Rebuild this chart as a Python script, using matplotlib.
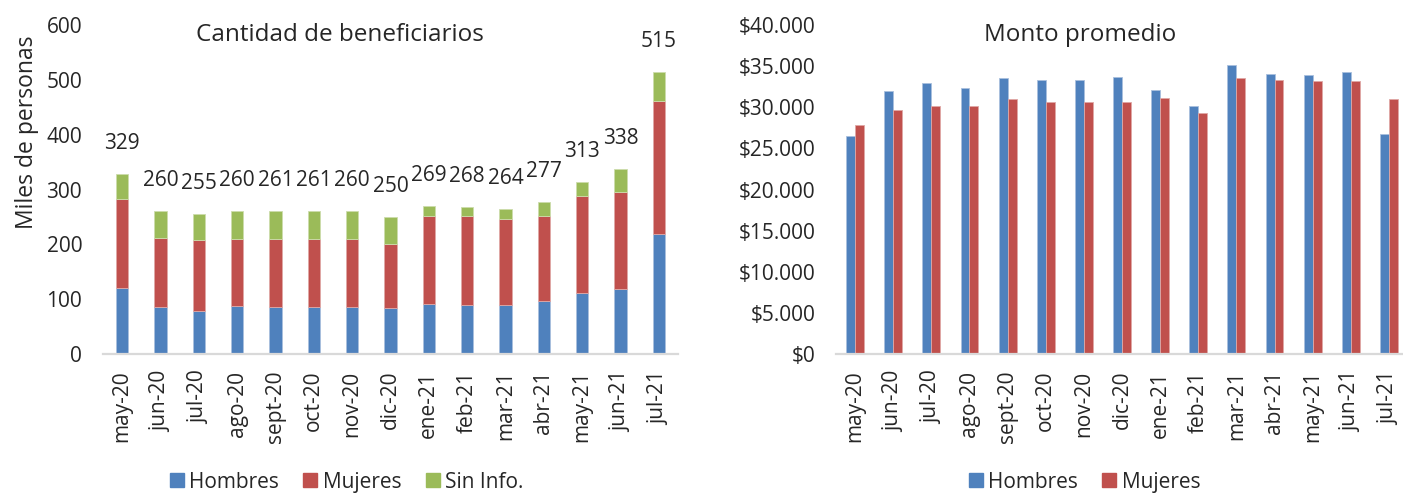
import matplotlib.pyplot as plt
from matplotlib.lines import Line2D
from matplotlib.ticker import FuncFormatter
import numpy as np

plt.rcParams["font.family"] = ["Open Sans", "DejaVu Sans"]

meses = ["may-20", "jun-20", "jul-20", "ago-20", "sept-20", "oct-20", "nov-20",
         "dic-20", "ene-21", "feb-21", "mar-21", "abr-21", "may-21", "jun-21", "jul-21"]

# Cantidad de beneficiarios (miles de personas)
ben_hombres = [121, 85, 79, 87, 86, 86, 86, 83, 91, 90, 90, 96, 112, 119, 218]
ben_mujeres = [161, 127, 128, 123, 124, 124, 124, 118, 160, 161, 156, 156, 177, 177, 244]
ben_sin_info = [47, 48, 48, 50, 51, 51, 50, 49, 18, 17, 18, 25, 24, 42, 53]
ben_total = [329, 260, 255, 260, 261, 261, 260, 250, 269, 268, 264, 277, 313, 338, 515]

# Monto promedio ($)
monto_hombres = [26500, 32000, 32900, 32300, 33500, 33300, 33300, 33650, 32100, 30100,
                 35100, 34100, 33900, 34300, 26750]
monto_mujeres = [27800, 29650, 30100, 30100, 30950, 30650, 30650, 30600, 31100, 29300,
                 33600, 33300, 33150, 33200, 31050]

AZUL = "#4F81BD"
ROJO = "#C0504D"
VERDE = "#9BBB59"
GRIS = "#D9D9D9"
TXT = "#262626"
FS = 15

W, H = 1403, 494
fig = plt.figure(figsize=(W / 100, H / 100), dpi=100)

ax1 = fig.add_axes([103 / W, (H - 354) / H, 575 / W, 329 / H])
ax2 = fig.add_axes([836 / W, (H - 354) / H, 572 / W, 329 / H])

x = np.arange(len(meses))
bw = 0.33
h = np.array(ben_hombres)
m = np.array(ben_mujeres)
s = np.array(ben_sin_info)
ax1.bar(x, h, bw, color=AZUL, edgecolor="#A9C0DE", linewidth=0.6)
ax1.bar(x, m, bw, bottom=h, color=ROJO, edgecolor="#DFA8A6", linewidth=0.6)
ax1.bar(x, s, bw, bottom=h + m, color=VERDE, edgecolor="#CDDDAC", linewidth=0.6)
for xi, tot, top in zip(x, ben_total, h + m + s):
    ax1.annotate(str(tot), (xi, top), xytext=(0, 22), textcoords="offset points",
                 ha="center", va="center", fontsize=15, color=TXT)
ax1.set_ylim(0, 600)
ax1.set_yticks(range(0, 601, 100))

bw2 = 0.235
ax2.bar(x - bw2 / 2, monto_hombres, bw2, color=AZUL, edgecolor="#A9C0DE", linewidth=0.6)
ax2.bar(x + bw2 / 2, monto_mujeres, bw2, color=ROJO, edgecolor="#DFA8A6", linewidth=0.6)
ax2.set_ylim(0, 40000)
ax2.set_yticks(range(0, 40001, 5000))
ax2.yaxis.set_major_formatter(FuncFormatter(lambda v, p: "$" + f"{v:,.0f}".replace(",", ".")))

for ax in (ax1, ax2):
    ax.set_xlim(-0.5, len(meses) - 0.5)
    ax.set_xticks(x)
    ax.set_xticklabels(meses, rotation=90)
    for sp in ("top", "right", "left"):
        ax.spines[sp].set_visible(False)
    ax.spines["bottom"].set_color(GRIS)
    ax.spines["bottom"].set_linewidth(1.6)
    ax.tick_params(axis="both", length=0, labelsize=FS, colors=TXT)
    ax.tick_params(axis="y", pad=15)
    ax.tick_params(axis="x", pad=12)

fig.text(340 / W, 1 - 35 / H, "Cantidad de beneficiarios", ha="center", va="center",
         fontsize=17.5, color=TXT)
fig.text(1080 / W, 1 - 35 / H, "Monto promedio", ha="center", va="center",
         fontsize=17.5, color=TXT)
fig.text(27 / W, 1 - 132 / H, "Miles de personas", ha="center", va="center",
         rotation=90, fontsize=16.5, color=TXT)

def cuadro(c):
    return Line2D([], [], marker="s", linestyle="", markersize=9.5, color=c)

leg_kw = dict(loc="center", ncol=3, frameon=False, fontsize=15, handletextpad=0.1,
              columnspacing=1.0, handlelength=1.0, labelcolor=TXT)
fig.legend([cuadro(AZUL), cuadro(ROJO), cuadro(VERDE)], ["Hombres", "Mujeres", "Sin Info."],
           bbox_to_anchor=(345 / W, 1 - 482 / H), **leg_kw)
fig.legend([cuadro(AZUL), cuadro(ROJO)], ["Hombres", "Mujeres"],
           bbox_to_anchor=(1083 / W, 1 - 482 / H), **leg_kw)

fig.savefig("out.png", dpi=100)
